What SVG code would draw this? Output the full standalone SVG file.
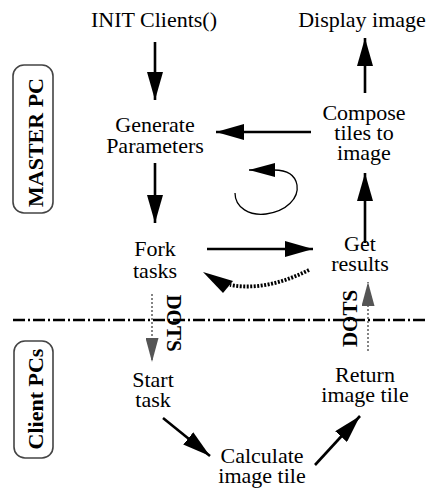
<svg xmlns="http://www.w3.org/2000/svg" width="427" height="489" viewBox="0 0 427 489">
<style>
text{font-family:'Liberation Serif','DejaVu Serif','Times New Roman',serif;fill:#000;text-anchor:middle}
.t{font-size:22px}
.b{font-size:22px;font-weight:bold}
.d{font-size:21px;font-weight:bold}
.a{stroke:#000;stroke-width:2.6;fill:none;marker-end:url(#ah)}
.g{stroke:#666;stroke-width:1.6;stroke-dasharray:2 2;fill:none;marker-end:url(#gh)}
.box{fill:none;stroke:#444;stroke-width:1.6}
</style>
<defs>
<marker id="ah" viewBox="0 0 28 16" refX="28" refY="8" markerWidth="28" markerHeight="16" markerUnits="userSpaceOnUse" orient="auto"><path d="M0,0 L28,8 L0,16 z" fill="#000"/></marker>
<marker id="sh" viewBox="0 0 26 14" refX="26" refY="7" markerWidth="26" markerHeight="14" markerUnits="userSpaceOnUse" orient="auto"><path d="M0,0 L26,7 L0,14 z" fill="#000"/></marker>
<marker id="gh" viewBox="0 0 24 13" refX="24" refY="6.5" markerWidth="24" markerHeight="13" markerUnits="userSpaceOnUse" orient="auto"><path d="M0,0 L24,6.5 L0,13 z" fill="#555"/></marker>
</defs>
<g id="master-label"><rect class="box" x="13" y="65" width="40" height="148" rx="11"/><text class="b" font-family="Liberation Serif, serif" transform="translate(43,142.5) rotate(-90)">MASTER PC</text></g>
<g id="client-label"><rect class="box" x="14" y="341" width="39" height="117" rx="11"/><text class="b" font-family="Liberation Serif, serif" transform="translate(43,399) rotate(-90)">Client PCs</text></g>
<g id="divider"><line x1="13" y1="320" x2="427" y2="320" stroke="#000" stroke-width="2.4" stroke-dasharray="12 3 2 3"/></g>
<g id="init"><text class="t" x="154" y="27">INIT Clients()</text></g>
<g id="display"><text class="t" x="362" y="27">Display image</text></g>
<g id="generate"><text class="t"><tspan x="155" y="132">Generate</tspan><tspan x="155" y="153">Parameters</tspan></text></g>
<g id="compose"><text class="t"><tspan x="364" y="120">Compose</tspan><tspan x="364" y="140">tiles to</tspan><tspan x="364" y="160">image</tspan></text></g>
<g id="fork"><text class="t"><tspan x="155" y="256">Fork</tspan><tspan x="155" y="278">tasks</tspan></text></g>
<g id="get"><text class="t"><tspan x="360" y="251">Get</tspan><tspan x="360" y="271">results</tspan></text></g>
<g id="start"><text class="t"><tspan x="153" y="387">Start</tspan><tspan x="153" y="407">task</tspan></text></g>
<g id="return"><text class="t"><tspan x="365" y="382">Return</tspan><tspan x="365" y="402">image tile</tspan></text></g>
<g id="calculate"><text class="t"><tspan x="262" y="463">Calculate</tspan><tspan x="262" y="483">image tile</tspan></text></g>
<g id="connectors">
<line class="a" x1="155" y1="42" x2="155" y2="100"/>
<line class="a" x1="155" y1="163" x2="155" y2="223"/>
<line class="a" x1="365" y1="93" x2="365" y2="38"/>
<line class="a" x1="311" y1="132" x2="216" y2="132"/>
<line class="a" x1="365" y1="243" x2="365" y2="173"/>
<line class="a" x1="207" y1="249" x2="313" y2="249"/>
<line class="a" x1="163" y1="418" x2="210" y2="456"/>
<line class="a" x1="315" y1="465" x2="360" y2="416"/>
<path d="M235,193 C235,208 250,216 266,214 C287,211 299,198 297,185 C295,174 285,170 274,170 L249,170" fill="none" stroke="#000" stroke-width="1.3" marker-end="url(#sh)"/>
<path d="M309,270 C285,282 258,290 230,285" fill="none" stroke="#000" stroke-width="3.8" stroke-dasharray="2 1.5"/>
<polygon points="203,272 233,281 223,293" fill="#000"/>
<line class="g" x1="152" y1="294" x2="152" y2="362"/>
<line class="g" x1="368" y1="351" x2="368" y2="282"/>
</g>
<g id="dots-left"><text class="d" transform="translate(167,323) rotate(90)">DOTS</text></g>
<g id="dots-right"><text class="d" transform="translate(357,318.5) rotate(-90)">DOTS</text></g>
</svg>
